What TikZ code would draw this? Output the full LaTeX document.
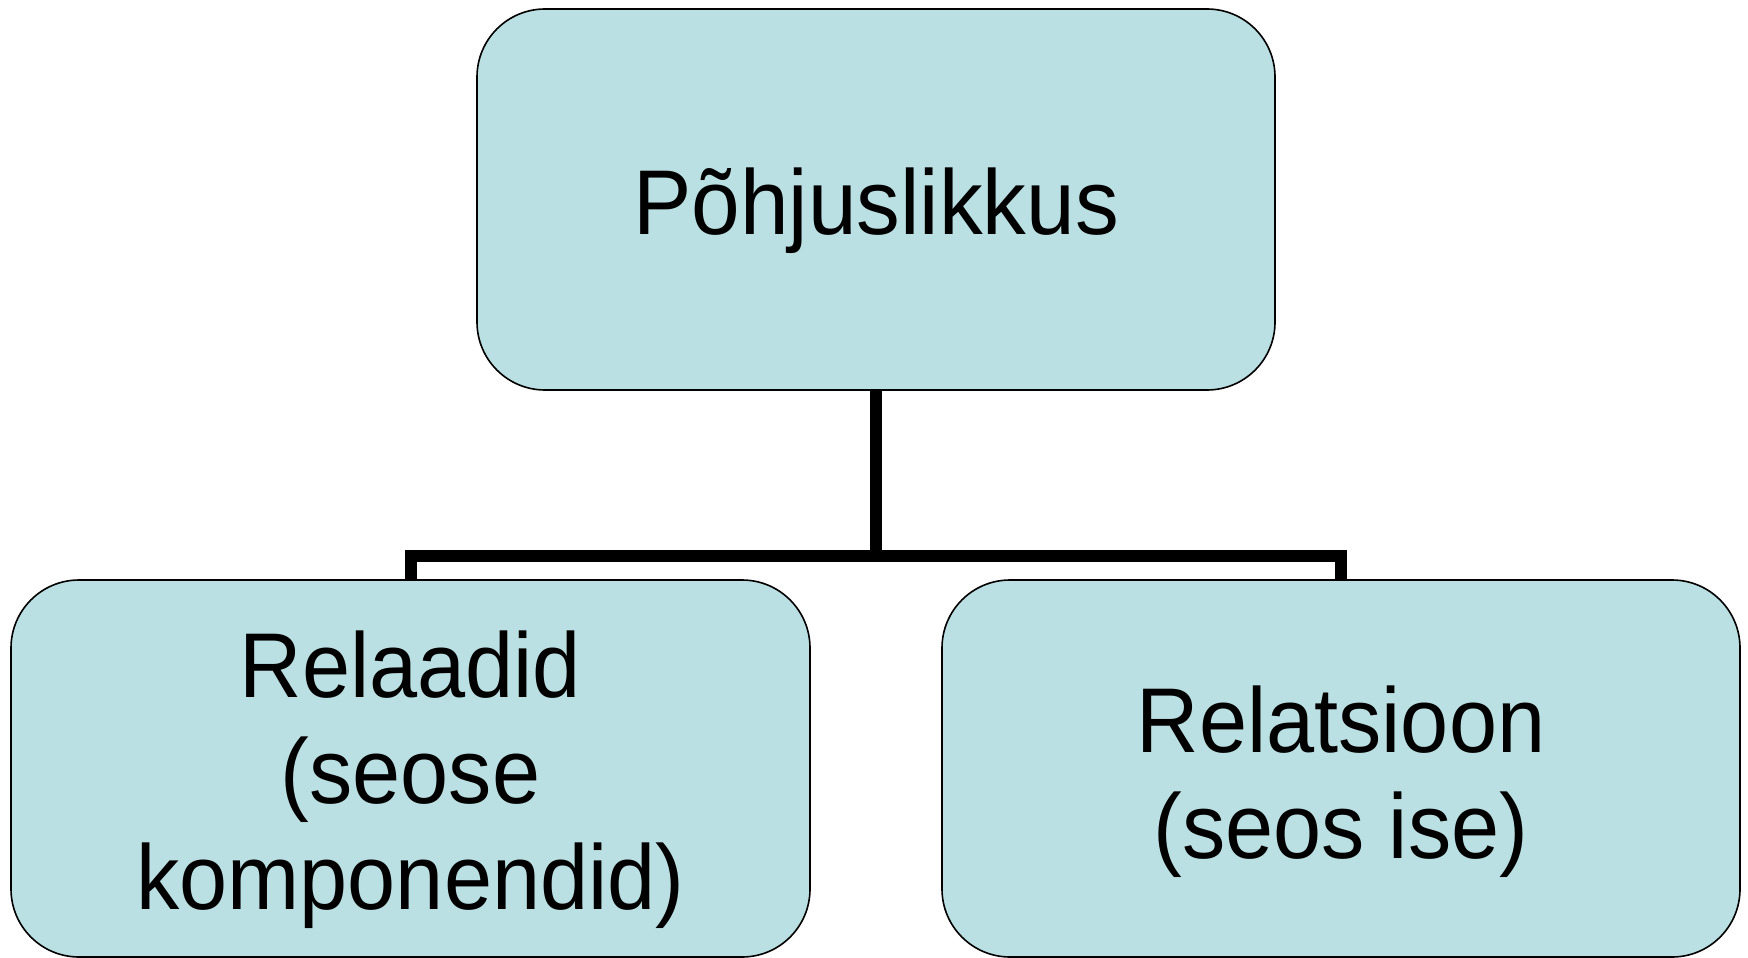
\documentclass[tikz,border=0pt]{standalone}
\usepackage{fontspec}
\setmainfont{Liberation Sans}
\definecolor{boxfill}{HTML}{BBE0E3}
\begin{document}
\begin{tikzpicture}[x=1pt,y=-1pt,
  box/.style={draw=black,line width=1.6pt,fill=boxfill,rounded corners=68pt,
    inner sep=0pt},
  txt/.style={inner sep=0pt,align=center,
    font=\fontsize{92}{106}\selectfont},
  conn/.style={draw=black,line width=12pt,line join=miter}]
\useasboundingbox (0,0) rectangle (1748,958);
\node[box,minimum width=798pt,minimum height=381pt] (top) at (876,199.5) {};
\node[box,minimum width=799pt,minimum height=377pt] (left) at (410.5,768.5) {};
\node[box,minimum width=798pt,minimum height=377pt] (right) at (1341,768.5) {};
\node[txt] (toptext) at ([yshift=-11pt]top.center)
  {\scalebox{0.95}[1]{Põhjuslikkus}};
\node[txt] (lefttext) at ([yshift=-11pt]left.center)
  {\scalebox{0.94}[1]{Relaadid}\\\scalebox{0.94}[1]{(seose}\\\scalebox{0.94}[1]{komponendid)}};
\node[txt] (righttext) at ([yshift=-13pt]right.center)
  {\scalebox{0.94}[1]{Relatsioon}\\\scalebox{0.94}[1]{(seos ise)}};
\coordinate (j) at (876,556);
\coordinate (jl) at (left.north |- j);
\coordinate (jr) at (right.north |- j);
\draw[conn] (top.south) -- (j);
\draw[conn] (left.north) -- (jl) -- (jr) -- (right.north);
\end{tikzpicture}
\end{document}
